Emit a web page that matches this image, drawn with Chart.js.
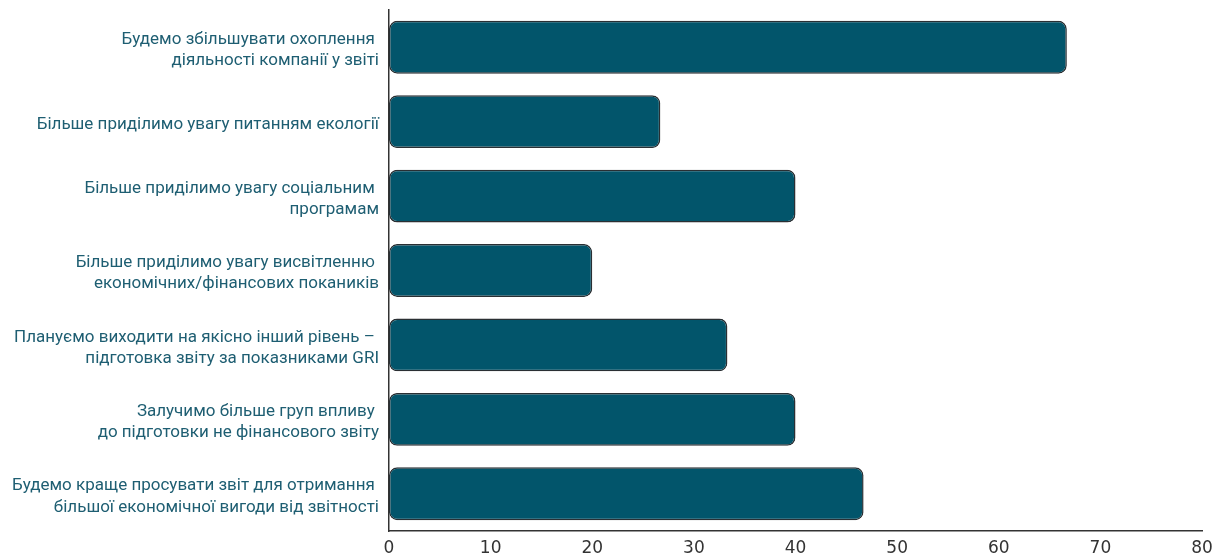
<!DOCTYPE html>
<html><head><meta charset="utf-8">
<script src="https://cdn.jsdelivr.net/npm/chart.js@4.4.1/dist/chart.umd.min.js"></script>
<style>html,body{margin:0;padding:0;background:#fff}#wrap{width:1216px;height:553px}</style>
</head><body><div id="wrap"><canvas id="c"></canvas></div>
<script>
const categories = [
  ["Будемо збільшувати охоплення ", "діяльності компанії у звіті"],
  "Більше приділимо увагу питанням екології",
  ["Більше приділимо увагу соціальним ", "програмам"],
  ["Більше приділимо увагу висвітленню ", "економічних/фінансових покаників"],
  ["Плануємо виходити на якісно інший рівень – ", "підготовка звіту за показниками GRI"],
  ["Залучимо більше груп впливу ", "до підготовки не фінансового звіту"],
  ["Будемо краще просувати звіт для отримання ", "більшої економічної вигоди від звітності"]
];
const values = [66.7, 26.7, 40, 20, 33.3, 40, 46.7];
const xTicks = [0, 10, 20, 30, 40, 50, 60, 70, 80];

new Chart(document.getElementById('c'), {
  type: 'bar',
  data: {
    labels: categories,
    datasets: [{
      data: values,
      backgroundColor: '#02556b',
      borderColor: '#2a2f33',
      borderWidth: 1.5,
      borderSkipped: false,
      borderRadius: 8,
      barPercentage: 0.71,
      categoryPercentage: 1
    }]
  },
  options: {
    indexAxis: 'y',
    responsive: true,
    maintainAspectRatio: false,
    animation: false,
    layout: { padding: { top: 10, right: 14, left: 0, bottom: 0 } },
    plugins: { legend: { display: false }, tooltip: { enabled: false } },
    scales: {
      x: {
        min: xTicks[0], max: xTicks[xTicks.length - 1],
        afterBuildTicks: s => { s.ticks = xTicks.map(v => ({ value: v })); },
        afterFit: s => { s.height = 22; s.paddingLeft = 0; s.paddingRight = 0; },
        grid: { display: false, drawTicks: false },
        border: { display: true, color: '#333', width: 1.5 },
        ticks: { color: '#333', padding: 7, font: { family: 'DejaVu Sans', size: 17 }, maxRotation: 0 }
      },
      y: {
        afterFit: s => { s.width = 389; s.paddingTop = 0; s.paddingBottom = 0; },
        grid: { display: false, drawTicks: false },
        border: { display: true, color: '#333', width: 1.5 },
        ticks: { color: '#1e5e72', padding: 10, labelOffset: 3, font: { family: 'Roboto', size: 17, lineHeight: 1.24 } }
      }
    }
  }
});
</script></body></html>
